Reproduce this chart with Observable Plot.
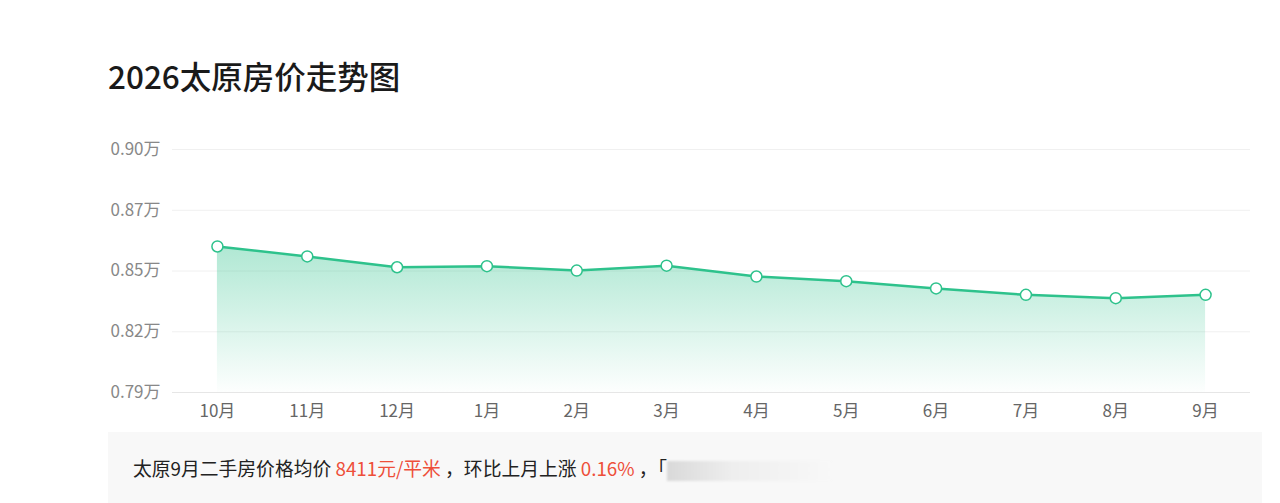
<!DOCTYPE html>
<html><head><meta charset="utf-8">
<script src="https://cdn.jsdelivr.net/npm/d3@7"></script>
<script src="https://cdn.jsdelivr.net/npm/@observablehq/plot@0.6"></script>
<style>
html,body{margin:0;padding:0;background:#fff;}
body{width:1280px;font-family:"Noto Sans CJK SC","Noto Sans",sans-serif;}
#title{height:130px;box-sizing:border-box;padding:54px 0 0 108px;font-size:31.5px;line-height:42px;font-weight:500;color:#1a1a1a;}
#chart svg{display:block;}
#caption{margin:2px 0 0 108px;width:1154px;height:72px;background:#f8f8f8;box-sizing:border-box;padding:0 0 0 25px;font-size:18.8px;line-height:72px;color:#222;white-space:nowrap;}
#caption .red{color:#ee4f3a;}
#caption .blur{display:inline-block;vertical-align:middle;width:165px;height:20px;background:linear-gradient(90deg,#d9d9d9,#eeeeee 40%,#f8f8f8);filter:blur(1px);}
</style></head>
<body>
<div id="title">2026太原房价走势图</div>
<div id="chart"></div>
<div id="caption">太原9月二手房价格均价 <span class="red">8411元/平米</span> ，环比上月上涨 <span class="red">0.16%</span> ，「<span class="blur"></span></div>
<script>
const months = ["10月","11月","12月","1月","2月","3月","4月","5月","6月","7月","8月","9月"];
const prices = [0.8561,0.8516,0.8467,0.8472,0.8452,0.8474,0.8425,0.8404,0.8371,0.8342,0.8327,0.8342];
const yTicks = [0.79,0.8175,0.845,0.8725,0.90];
const yTickLabels = ["0.79万","0.82万","0.85万","0.87万","0.90万"];

const data = months.map((m,i)=>({month:m, price:prices[i]}));
const green = "#2ec28c";
const yBase = yTicks[0];

const plot = Plot.plot({
  width:1280, height:300,
  marginLeft:172, marginRight:30, marginTop:19, marginBottom:38,
  style:{fontFamily:'"Noto Sans CJK SC","Noto Sans",sans-serif', fontSize:"17px", color:"#888", background:"transparent"},
  x:{type:"point", domain:months, padding:0.5, round:false, label:null},
  y:{domain:[yTicks[0], yTicks[yTicks.length-1]], label:null},
  marks:[
    Plot.gridY(yTicks, {stroke:"#f0f0f0", strokeOpacity:1}),
    Plot.ruleY([yBase], {stroke:"#e6e6e6"}),
    Plot.axisY({ticks:yTicks, tickSize:0, tickPadding:12, tickFormat:(d,i)=>yTickLabels[i], fill:"#888", fontSize:17}),
    Plot.axisX({tickSize:0, tickPadding:12, fill:"#666", fontSize:17}),
    Plot.areaY(data, {x:"month", y1:yBase, y2:"price", fill:"url(#areaGrad)"}),
    Plot.lineY(data, {x:"month", y:"price", stroke:green, strokeWidth:2.5}),
    Plot.dot(data, {x:"month", y:"price", r:5.5, fill:"#fff", stroke:green, strokeWidth:1.5})
  ]
});
const svg = d3.select(plot);
const defs = svg.insert("defs", ":first-child");
const g = defs.append("linearGradient").attr("id","areaGrad").attr("x1",0).attr("y1",0).attr("x2",0).attr("y2",1);
g.append("stop").attr("offset","0%").attr("stop-color",green).attr("stop-opacity",0.38);
g.append("stop").attr("offset","100%").attr("stop-color",green).attr("stop-opacity",0.01);
document.getElementById("chart").appendChild(plot);
</script>
</body></html>
